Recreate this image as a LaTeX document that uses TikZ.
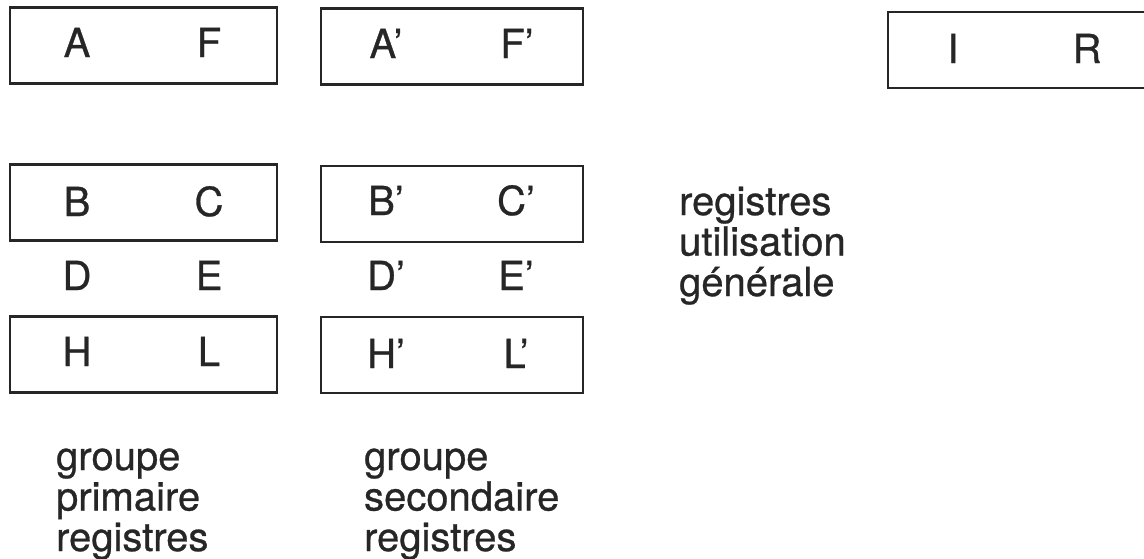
\documentclass[tikz,border=0pt]{standalone}
\usepackage{fontspec}
\setmainfont[FakeBold=0.7]{TeX Gyre Heros}
\usetikzlibrary{positioning}
\def\regheight{76pt}

\begin{document}
\begin{tikzpicture}[x=1pt,y=-1pt,line width=2.2pt,draw=black!85,text=black!85]
    \tikzstyle{register}=[rectangle,draw,minimum width=265pt,minimum height=\regheight,inner sep=0pt]
    \tikzstyle{letter}=[anchor=base,inner sep=0pt,font=\fontsize{40}{41}\selectfont]
    \tikzstyle{annot}=[anchor=base west,inner sep=0pt,text width=230pt,align=left,font=\fontsize{40}{40.5}\selectfont]

    \useasboundingbox (0,0) rectangle (1144,558);
    \clip (0,0) rectangle (1144,558);

    % Draw the primary register boxes
    \foreach \name / \y in {AF/45.5,BC/202.5,HL/354.5}
        \node[register, minimum width=267pt] (\name) at (143.5,\y) {};

    % Draw the secondary register boxes
    \foreach \name / \y in {AF-s/46.5,BC-s/204,HL-s/355}
        \node[register, minimum width=262pt] (\name) at (452,\y) {};

    % The I R box runs off the right edge
    \node[register] (IR) at (1020.5,50) {};

    % Letters of the primary group
    \foreach \l / \x / \y in {A/77/57,F/209/57,B/77/216,C/209/216,D/77/290,E/209/290,H/77/366,L/209/366}
        \node[letter] (\l) at (\x,\y) {\l};

    % Letters of the secondary group
    \foreach \l / \x / \y in {A/386/58,F/517/58,B/386/215,C/516/215,D/386/290,E/516/290,H/386/368,L/516/368}
        \node[letter] (\l-s) at (\x,\y) {\l'};

    \node[letter] (I) at (953,63) {I};
    \node[letter] (R) at (1087,63) {R};

    % Captions
    \node[annot] (general) at (678,215) {registres\\utilisation\\générale};
    \node[annot] (primary) at (55,470) {groupe\\primaire\\registres};
    \node[annot] (secondary) at (363,470) {groupe\\secondaire\\registres};
\end{tikzpicture}
\end{document}
